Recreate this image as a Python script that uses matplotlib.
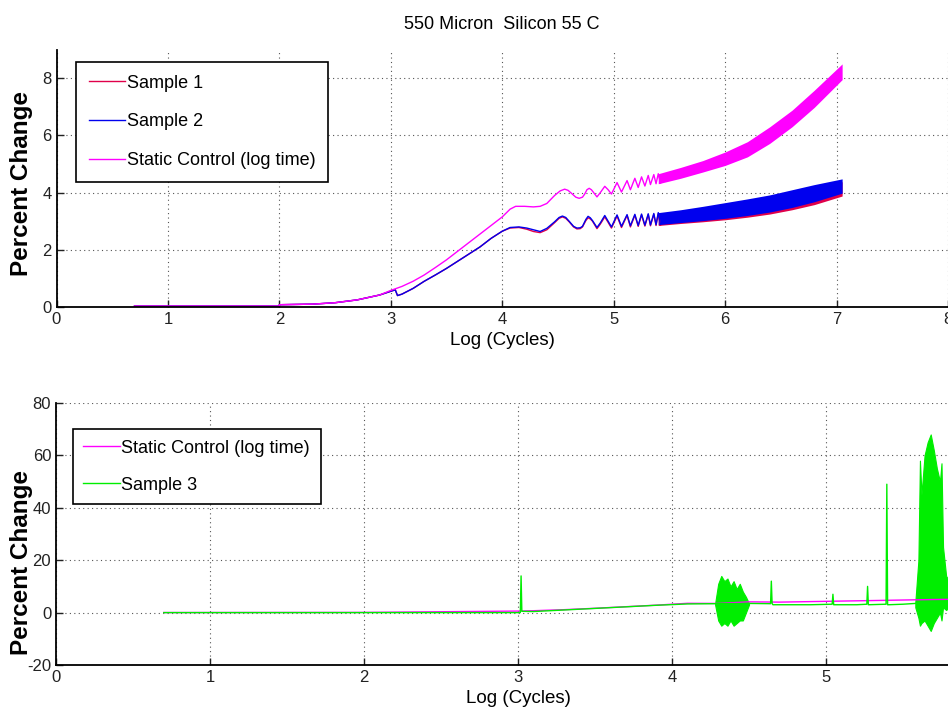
import numpy as np
import matplotlib
matplotlib.use("Agg")
from matplotlib import pyplot as plt

# --- top panel data: thin-line parts ---
s1_x = [0.70, 2.00, 2.00, 2.30, 2.50, 2.70, 2.90, 3.00, 3.04, 3.06, 3.10, 3.20, 3.30, 3.40, 3.50,
        3.60, 3.70, 3.80, 3.90, 4.00, 4.07, 4.15, 4.22, 4.28, 4.34, 4.40, 4.47, 4.51, 4.54, 4.57,
        4.60, 4.64, 4.67, 4.70, 4.72, 4.75, 4.77, 4.79, 4.81, 4.85, 4.88, 4.92, 4.95, 4.98, 5.03,
        5.07, 5.12, 5.15, 5.19, 5.22, 5.25, 5.28, 5.31, 5.33, 5.36, 5.38, 5.40, 5.42]
s1_y = [0.03, 0.03, 0.08, 0.10, 0.15, 0.25, 0.42, 0.55, 0.60, 0.40, 0.45, 0.65, 0.90, 1.12, 1.35,
        1.60, 1.85, 2.10, 2.40, 2.65, 2.76, 2.78, 2.72, 2.64, 2.60, 2.70, 2.95, 3.10, 3.15, 3.10,
        2.98, 2.80, 2.73, 2.74, 2.80, 3.02, 3.12, 3.08, 3.00, 2.74, 2.90, 3.15, 2.96, 2.76, 3.18,
        2.78, 3.20, 2.80, 3.21, 2.82, 3.22, 2.83, 3.23, 2.84, 3.24, 2.85, 3.26, 2.86]

s2_x = s1_x
s2_y = [0.03, 0.03, 0.08, 0.10, 0.15, 0.25, 0.42, 0.55, 0.60, 0.40, 0.45, 0.65, 0.90, 1.12, 1.35,
        1.60, 1.85, 2.10, 2.40, 2.65, 2.78, 2.80, 2.76, 2.70, 2.64, 2.75, 2.98, 3.13, 3.18, 3.13,
        3.00, 2.82, 2.76, 2.77, 2.82, 3.06, 3.17, 3.12, 3.02, 2.78, 2.94, 3.20, 3.00, 2.80, 3.22,
        2.82, 3.23, 2.84, 3.24, 2.85, 3.25, 2.86, 3.26, 2.87, 3.27, 2.88, 3.30, 2.89]

sc_x = [0.70, 2.00, 2.00, 2.30, 2.50, 2.70, 2.90, 3.00, 3.05, 3.10, 3.20, 3.30, 3.40, 3.50, 3.60,
        3.70, 3.80, 3.90, 4.00, 4.07, 4.12, 4.20, 4.28, 4.34, 4.40, 4.47, 4.52, 4.56, 4.59, 4.62,
        4.66, 4.69, 4.72, 4.74, 4.76, 4.78, 4.80, 4.85, 4.88, 4.92, 4.95, 4.98, 5.03, 5.07, 5.12,
        5.15, 5.19, 5.22, 5.25, 5.28, 5.31, 5.33, 5.36, 5.38, 5.40, 5.42]
sc_y = [0.03, 0.03, 0.08, 0.10, 0.15, 0.25, 0.42, 0.58, 0.65, 0.72, 0.90, 1.12, 1.38, 1.65, 1.95,
        2.25, 2.55, 2.85, 3.15, 3.42, 3.52, 3.52, 3.50, 3.52, 3.62, 3.90, 4.06, 4.12, 4.08, 3.98,
        3.84, 3.80, 3.84, 3.95, 4.10, 4.15, 4.10, 3.85, 4.00, 4.22, 4.10, 3.95, 4.35, 4.02, 4.42,
        4.10, 4.50, 4.18, 4.55, 4.23, 4.60, 4.28, 4.63, 4.31, 4.66, 4.33]

# --- top panel data: dense oscillation bands (lower / upper envelopes) ---
band_x = [5.40, 5.60, 5.80, 6.00, 6.20, 6.40, 6.60, 6.80, 7.05]
s1_lo = [2.85, 2.92, 2.98, 3.05, 3.14, 3.25, 3.40, 3.58, 3.88]
s1_hi = [3.26, 3.35, 3.46, 3.58, 3.70, 3.84, 4.00, 4.18, 4.38]
s2_lo = [2.88, 2.95, 3.02, 3.10, 3.20, 3.32, 3.48, 3.68, 3.98]
s2_hi = [3.30, 3.40, 3.52, 3.65, 3.78, 3.92, 4.10, 4.28, 4.48]
sc_lo = [4.31, 4.50, 4.72, 4.95, 5.25, 5.72, 6.30, 6.98, 7.95]
sc_hi = [4.66, 4.88, 5.12, 5.42, 5.78, 6.30, 6.88, 7.58, 8.50]

# --- bottom panel data ---
sc2_x = [0.70, 2.00, 3.00, 3.10, 3.30, 3.50, 3.70, 3.90, 4.10, 4.30, 4.50, 4.70, 5.00, 5.30,
         5.50, 5.70, 5.85]
sc2_y = [0.03, 0.08, 0.58, 0.72, 1.12, 1.65, 2.25, 2.85, 3.55, 3.50, 4.10, 4.00, 4.30, 4.60,
         4.80, 5.00, 5.10]

s3_x = [0.70, 3.00, 3.015, 3.02, 3.025, 3.10, 3.30, 3.50, 3.70, 3.90, 4.10, 4.28, 4.50, 4.64,
        4.645, 4.65, 4.655, 4.70, 4.90, 5.04, 5.045, 5.05, 5.20, 5.265, 5.27, 5.275, 5.39, 5.395,
        5.40, 5.405, 5.50, 5.58]
s3_y = [0.0, 0.0, 0.0, 14.0, 0.5, 0.4, 1.0, 1.6, 2.2, 2.8, 3.3, 3.4, 3.5, 3.4,
        12.0, 3.5, 3.0, 3.0, 3.0, 3.2, 7.0, 3.0, 3.0, 3.2, 10.0, 3.0, 3.2, 49.0,
        3.0, 3.0, 3.2, 3.5]

# noisy bursts of sample 3 (envelopes)
n1_x = [4.28, 4.30, 4.32, 4.34, 4.36, 4.38, 4.40, 4.42, 4.44, 4.46, 4.48, 4.50]
n1_hi = [3.5, 11.0, 14.0, 12.0, 13.0, 10.0, 12.0, 9.0, 11.0, 8.0, 6.0, 3.5]
n1_lo = [3.0, -3.0, -5.0, -4.0, -5.0, -3.0, -5.0, -4.0, -3.0, -3.0, 0.0, 3.0]
n2_x = [5.58, 5.60, 5.61, 5.62, 5.64, 5.66, 5.68, 5.70, 5.72, 5.74, 5.75, 5.76, 5.78, 5.80]
n2_hi = [4.0, 20.0, 58.0, 45.0, 60.0, 65.0, 68.0, 62.0, 55.0, 50.0, 57.0, 25.0, 14.0, 12.0]
n2_lo = [2.0, -2.0, -5.0, -4.0, -3.0, -5.0, -7.0, -4.0, -2.0, 0.0, -3.0, 2.0, 1.0, 2.0]

RED = '#e0004a'
BLUE = '#0000ee'
MAG = '#ff00ff'
GREEN = '#00ee00'

plt.rcParams['font.family'] = ['Liberation Sans', 'DejaVu Sans']
plt.rcParams['axes.unicode_minus'] = False


def style_axes(ax, ylab_y):
    for s in ['top', 'right']:
        ax.spines[s].set_visible(False)
    for s in ['left', 'bottom']:
        ax.spines[s].set_linewidth(1.3)
    ax.tick_params(direction='in', length=5, width=1, labelsize=12, colors='#222222',
                   labelcolor='#222222')
    ax.grid(True, color='#555555', linestyle=(0, (1, 3)), linewidth=0.8)
    ax.set_axisbelow(True)
    ax.set_xlabel('Log (Cycles)', fontsize=13.5)
    ax.set_ylabel('Percent Change', fontsize=17.5, fontweight='bold')
    # right edge of the rotated y label sits at about x = 33 px
    w = ax.get_position().width * 948
    x0 = ax.get_position().x0 * 948
    ax.yaxis.set_label_coords(-(x0 - 33.0) / w, ylab_y)


fig = plt.figure(figsize=(9.48, 7.28), dpi=100)

ax1 = fig.add_axes([56.5 / 948, 1 - 307 / 728, 891.5 / 948, 257.4 / 728])
ax1.plot(s1_x, s1_y, color=RED, lw=1, label='Sample 1')
ax1.fill_between(band_x, s1_lo, s1_hi, color=RED, lw=0)
ax1.plot(s2_x, s2_y, color=BLUE, lw=1, label='Sample 2')
ax1.fill_between(band_x, s2_lo, s2_hi, color=BLUE, lw=0)
ax1.plot(sc_x, sc_y, color=MAG, lw=1, label='Static Control (log time)')
ax1.fill_between(band_x, sc_lo, sc_hi, color=MAG, lw=0)
ax1.set_xlim(0, 8)
ax1.set_ylim(0, 9)
ax1.set_xticks(range(0, 9))
ax1.set_yticks([0, 2, 4, 6, 8])
style_axes(ax1, 0.48)
ax1.set_title('550 Micron  Silicon 55 C', fontsize=13, pad=15)
leg = ax1.legend(loc='upper left', bbox_to_anchor=(0.022, 0.952), borderaxespad=0,
                 fontsize=13, fancybox=False, framealpha=1, edgecolor='black',
                 handlelength=2.0, handletextpad=0.1, labelspacing=1.2, borderpad=0.7)
leg.get_frame().set_linewidth(1.2)

ax2 = fig.add_axes([56 / 948, 1 - 665 / 728, 924 / 948, 262 / 728])
ax2.plot(sc2_x, sc2_y, color=MAG, lw=1, label='Static Control (log time)')
ax2.plot(s3_x, s3_y, color=GREEN, lw=1, label='Sample 3')
ax2.fill_between(n1_x, n1_lo, n1_hi, color=GREEN, lw=0.8, edgecolor=GREEN)
ax2.fill_between(n2_x, n2_lo, n2_hi, color=GREEN, lw=0.8, edgecolor=GREEN)
ax2.set_xlim(0, 6)
ax2.set_ylim(-20, 80)
ax2.set_xticks(range(0, 6))
ax2.set_yticks(range(-20, 81, 20))
style_axes(ax2, 0.39)
leg2 = ax2.legend(loc='upper left', bbox_to_anchor=(0.018, 0.901), borderaxespad=0,
                  fontsize=13, fancybox=False, framealpha=1, edgecolor='black',
                  handlelength=2.0, handletextpad=0.1, labelspacing=1.1, borderpad=0.6)
leg2.get_frame().set_linewidth(1.2)

fig.savefig('out.png', dpi=100)
